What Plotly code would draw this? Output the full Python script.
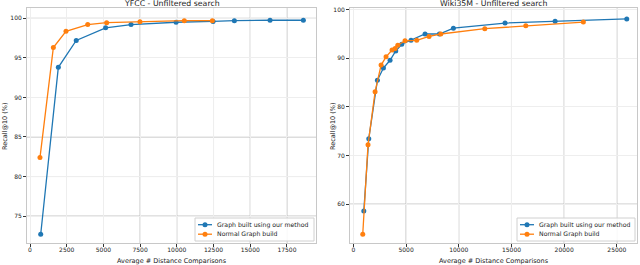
import plotly.graph_objects as go

# ---- data ----
yfcc_ours_x = [730, 1930, 3150, 5150, 6880, 9950, 12470, 13920, 16350, 18620]
yfcc_ours_y = [72.7, 93.8, 97.2, 98.8, 99.2, 99.5, 99.6, 99.7, 99.75, 99.75]
yfcc_norm_x = [680, 1590, 2450, 3930, 5220, 7490, 10510, 12420]
yfcc_norm_y = [82.4, 96.3, 98.35, 99.2, 99.45, 99.57, 99.7, 99.7]

wiki_ours_x = [990, 1460, 2280, 2850, 3480, 4020, 4590, 5470, 6800, 8160, 9490, 14390, 19140, 25940]
wiki_ours_y = [58.6, 73.45, 85.5, 88.0, 89.6, 91.5, 92.9, 93.7, 95.0, 95.0, 96.2, 97.25, 97.6, 98.1]
wiki_norm_x = [890, 1390, 2060, 2630, 3100, 3670, 3960, 4210, 4900, 6010, 7180, 8290, 12470, 16360, 21820]
wiki_norm_y = [53.8, 72.2, 83.1, 88.6, 90.3, 91.7, 92.0, 92.7, 93.6, 93.7, 94.5, 95.0, 96.1, 96.7, 97.45]

series_names = ["Graph built using our method", "Normal Graph build"]
titles = ["YFCC - Unfiltered search", "Wiki35M - Unfiltered search"]
x_title = "Average # Distance Comparisons"
y_title = "Recall@10 (%)"

yfcc_xticks = [0, 2500, 5000, 7500, 10000, 12500, 15000, 17500]
yfcc_yticks = [75, 80, 85, 90, 95, 100]
wiki_xticks = [0, 5000, 10000, 15000, 20000, 25000]
wiki_yticks = [60, 70, 80, 90, 100]

# grid lines that render darker in the reference
yfcc_dark_x = [7500, 10000, 12500, 15000, 17500]
yfcc_dark_y = [75, 80, 85, 100]
wiki_dark_x = [5000, 10000, 15000, 20000, 25000]
wiki_dark_y = [60, 70]

BLUE = "#1f77b4"
ORANGE = "#ff7f0e"
COLORS = [BLUE, ORANGE]
FONT = "DejaVu Sans"
W, H = 640, 265

fig = go.Figure()


def add_pair(xa, ya, xb, yb, xaxis, yaxis):
    for xs, ys, name, col in [(xa, ya, series_names[0], BLUE), (xb, yb, series_names[1], ORANGE)]:
        fig.add_trace(go.Scatter(x=xs, y=ys, mode="lines+markers", name=name,
                                 line=dict(color=col, width=1.3), marker=dict(size=5, color=col),
                                 xaxis=xaxis, yaxis=yaxis, showlegend=False))


add_pair(yfcc_ours_x, yfcc_ours_y, yfcc_norm_x, yfcc_norm_y, "x", "y")
add_pair(wiki_ours_x, wiki_ours_y, wiki_norm_x, wiki_norm_y, "x2", "y2")

ytop = 1 - 8 / H
ybot = 1 - 243 / H

axis_common = dict(showline=True, linecolor="#c8c8c8", linewidth=1, mirror=True,
                   showgrid=True, gridcolor="#eeeeee", gridwidth=1, zeroline=False,
                   ticks="outside", ticklen=3, tickcolor="#333333", tickwidth=0.8,
                   automargin=False,
                   tickfont=dict(family=FONT, size=6, color="#222222"))

L1, R1, L2, R2 = 27, 316, 350, 637

fig.update_layout(
    width=W, height=H, margin=dict(l=0, r=0, t=0, b=0, pad=0),
    paper_bgcolor="white", plot_bgcolor="white", showlegend=False,
    xaxis=dict(domain=[L1 / W, R1 / W], range=[-204, 19480], tickvals=yfcc_xticks,
               ticktext=[str(v) for v in yfcc_xticks], anchor="y", ticklabelstandoff=-2,
               **axis_common),
    yaxis=dict(domain=[ybot, ytop], range=[71.6, 101.3], tickvals=yfcc_yticks,
               ticktext=[str(v) for v in yfcc_yticks], anchor="x", **axis_common),
    xaxis2=dict(domain=[L2 / W, R2 / W], range=[-320, 26910], tickvals=wiki_xticks,
                ticktext=[str(v) for v in wiki_xticks], anchor="y2", ticklabelstandoff=-2,
                **axis_common),
    yaxis2=dict(domain=[ybot, ytop], range=[52.0, 100.35], tickvals=wiki_yticks,
                ticktext=[str(v) for v in wiki_yticks], anchor="x2", **axis_common),
)

shapes = []
GRID_DARK = "#b8b8b8"
for v in yfcc_dark_x:
    shapes.append(dict(type="line", xref="x", yref="y domain", x0=v, x1=v, y0=0, y1=1,
                       line=dict(color=GRID_DARK, width=1), layer="below"))
for v in yfcc_dark_y:
    shapes.append(dict(type="line", xref="x domain", yref="y", x0=0, x1=1, y0=v, y1=v,
                       line=dict(color=GRID_DARK, width=1), layer="below"))
for v in wiki_dark_x:
    shapes.append(dict(type="line", xref="x2", yref="y2 domain", x0=v, x1=v, y0=0, y1=1,
                       line=dict(color=GRID_DARK, width=1), layer="below"))
for v in wiki_dark_y:
    shapes.append(dict(type="line", xref="x2 domain", yref="y2", x0=0, x1=1, y0=v, y1=v,
                       line=dict(color=GRID_DARK, width=1), layer="below"))


def px(x):
    return x / W


def py(y):
    return 1 - y / H


annotations = []
leg_font = dict(family=FONT, size=6.2, color="#222222")


def add_legend(box_l, box_r, box_t, box_b, rows):
    shapes.append(dict(type="rect", xref="paper", yref="paper",
                       x0=px(box_l), x1=px(box_r), y0=py(box_b), y1=py(box_t),
                       fillcolor="rgba(255,255,255,0.85)", line=dict(color="#d0d0d0", width=1),
                       layer="above"))
    for i, yrow in enumerate(rows):
        col = COLORS[i]
        shapes.append(dict(type="line", xref="paper", yref="paper",
                           x0=px(box_l + 3), x1=px(box_l + 17), y0=py(yrow), y1=py(yrow),
                           line=dict(color=col, width=1.3), layer="above"))
        shapes.append(dict(type="circle", xref="paper", yref="paper",
                           x0=px(box_l + 7.5), x1=px(box_l + 12.5), y0=py(yrow + 2.5), y1=py(yrow - 2.5),
                           fillcolor=col, line=dict(color=col, width=0), layer="above"))
        annotations.append(dict(text=series_names[i], x=px(box_l + 20), y=py(yrow),
                                xref="paper", yref="paper", showarrow=False, font=leg_font,
                                xanchor="left", yanchor="middle"))


add_legend(195, 314, 218, 241, [224.7, 234.2])
add_legend(517, 635, 218, 241, [224.7, 234.2])
fig.update_layout(shapes=shapes)

ann_font = dict(family=FONT, size=7.8, color="#222222")
lab_font = dict(family=FONT, size=6.5, color="#222222")
annotations += [
    dict(text=titles[0], x=px((L1 + R1) / 2), y=py(4), xref="paper", yref="paper",
         showarrow=False, font=ann_font, xanchor="center", yanchor="middle"),
    dict(text=titles[1], x=px((L2 + R2) / 2), y=py(4), xref="paper", yref="paper",
         showarrow=False, font=ann_font, xanchor="center", yanchor="middle"),
    dict(text=x_title, x=px((L1 + R1) / 2), y=py(260.5), xref="paper", yref="paper",
         showarrow=False, font=lab_font, xanchor="center", yanchor="middle"),
    dict(text=x_title, x=px((L2 + R2) / 2), y=py(260.5), xref="paper", yref="paper",
         showarrow=False, font=lab_font, xanchor="center", yanchor="middle"),
    dict(text=y_title, x=px(5), y=py(127), xref="paper", yref="paper", textangle=-90,
         showarrow=False, font=lab_font, xanchor="center", yanchor="middle"),
    dict(text=y_title, x=px(333), y=py(127), xref="paper", yref="paper", textangle=-90,
         showarrow=False, font=lab_font, xanchor="center", yanchor="middle"),
]
fig.update_layout(annotations=annotations)

fig.write_html("out.html", config={"displayModeBar": False},
               post_script="document.body.style.margin='0';document.body.style.overflow='hidden';")
